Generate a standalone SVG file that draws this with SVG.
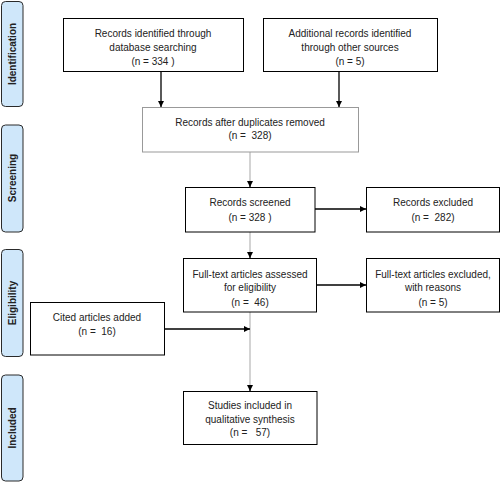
<svg xmlns="http://www.w3.org/2000/svg" width="500" height="482" viewBox="0 0 500 482">
<style>
.box{fill:#fff;stroke:#000;stroke-width:1}
.gbox{fill:#fff;stroke:#999;stroke-width:1}
.side{fill:#cfe7fa;stroke:#2a2a2a;stroke-width:1}
.t{font-family:"Liberation Sans",Arial,sans-serif;font-size:10px;fill:#222;text-anchor:middle}
.st{font-family:"Liberation Sans",Arial,sans-serif;font-size:10px;font-weight:bold;fill:#222;text-anchor:middle}
.k{stroke:#000;stroke-width:1.3;fill:none}
.g{stroke:#c8c8c8;stroke-width:1.6;fill:none}
</style>
<defs>
<marker id="ah" viewBox="0 0 10 10" refX="10" refY="5" markerWidth="6" markerHeight="6" markerUnits="userSpaceOnUse" orient="auto">
<path d="M0,0 L10,5 L0,10 z" fill="#000"/>
</marker>
</defs>
<g id="side-identification"><rect class="side" x="1.5" y="1.5" width="21.5" height="105" rx="4"/><text class="st" transform="translate(16,54) rotate(-90)">Identification</text></g>
<g id="side-screening"><rect class="side" x="1.5" y="125" width="21.5" height="107" rx="4"/><text class="st" transform="translate(16,178) rotate(-90)">Screening</text></g>
<g id="side-eligibility"><rect class="side" x="1.5" y="249.5" width="21.5" height="107" rx="4"/><text class="st" transform="translate(16,303) rotate(-90)">Eligibility</text></g>
<g id="side-included"><rect class="side" x="1.5" y="375" width="21.5" height="106" rx="4"/><text class="st" transform="translate(16,428) rotate(-90)">Included</text></g>
<g id="connectors">
<line class="k" x1="161" y1="71" x2="161" y2="107" marker-end="url(#ah)"/>
<line class="k" x1="339" y1="71" x2="339" y2="107" marker-end="url(#ah)"/>
<line class="g" x1="250" y1="152" x2="250" y2="182"/>
<line class="k" x1="250" y1="181" x2="250" y2="187" marker-end="url(#ah)"/>
<line class="k" x1="315" y1="209" x2="366" y2="209" marker-end="url(#ah)"/>
<line class="g" x1="250" y1="232" x2="250" y2="253"/>
<line class="k" x1="250" y1="252" x2="250" y2="258" marker-end="url(#ah)"/>
<line class="k" x1="316" y1="285" x2="366" y2="285" marker-end="url(#ah)"/>
<line class="g" x1="250" y1="312" x2="250" y2="386"/>
<line class="k" x1="164" y1="329" x2="250" y2="329" marker-end="url(#ah)"/>
<line class="k" x1="250" y1="385" x2="250" y2="391" marker-end="url(#ah)"/>
</g>
<g id="n-identified"><rect class="box" x="63.5" y="18.5" width="180" height="53"/>
<text class="t" x="153" y="36.5">Records identified through</text><text class="t" x="153" y="50.5">database searching</text><text class="t" x="153" y="65" xml:space="preserve">(n = 334 )</text></g>
<g id="n-additional"><rect class="box" x="263.5" y="18.5" width="174" height="53"/>
<text class="t" x="350" y="36.5">Additional records identified</text><text class="t" x="350" y="50.5">through other sources</text><text class="t" x="350" y="65">(n = 5)</text></g>
<g id="n-duplicates"><rect class="gbox" x="142.5" y="107.5" width="216" height="44.5"/>
<text class="t" x="250" y="125.5">Records after duplicates removed</text><text class="t" x="250" y="138.5" xml:space="preserve">(n =  328)</text></g>
<g id="n-screened"><rect class="box" x="185.5" y="187.5" width="129.5" height="44.5"/>
<text class="t" x="250" y="205.5">Records screened</text><text class="t" x="250" y="220.5" xml:space="preserve">(n = 328 )</text></g>
<g id="n-excluded"><rect class="box" x="366.5" y="187.5" width="133" height="44.5"/>
<text class="t" x="433" y="205.5">Records excluded</text><text class="t" x="433" y="220.5" xml:space="preserve">(n =  282)</text></g>
<g id="n-fulltext"><rect class="box" x="183.5" y="258.5" width="133" height="53.5"/>
<text class="t" x="250" y="277.5">Full-text articles assessed</text><text class="t" x="250" y="290.5">for eligibility</text><text class="t" x="250" y="305.5" xml:space="preserve">(n =  46)</text></g>
<g id="n-ft-excluded"><rect class="box" x="366.5" y="258.5" width="133" height="53.5"/>
<text class="t" x="433" y="277.5">Full-text articles excluded,</text><text class="t" x="433" y="290.5">with reasons</text><text class="t" x="433" y="305.5">(n = 5)</text></g>
<g id="n-cited"><rect class="box" x="30.5" y="302.5" width="134" height="52.5"/>
<text class="t" x="97" y="320.5">Cited articles added</text><text class="t" x="97" y="334.5" xml:space="preserve">(n =  16)</text></g>
<g id="n-studies"><rect class="box" x="183.5" y="391.5" width="133.5" height="53"/>
<text class="t" x="250" y="408.5">Studies included in</text><text class="t" x="250" y="422.5">qualitative synthesis</text><text class="t" x="250" y="435.5" xml:space="preserve">(n =   57)</text></g>
</svg>
